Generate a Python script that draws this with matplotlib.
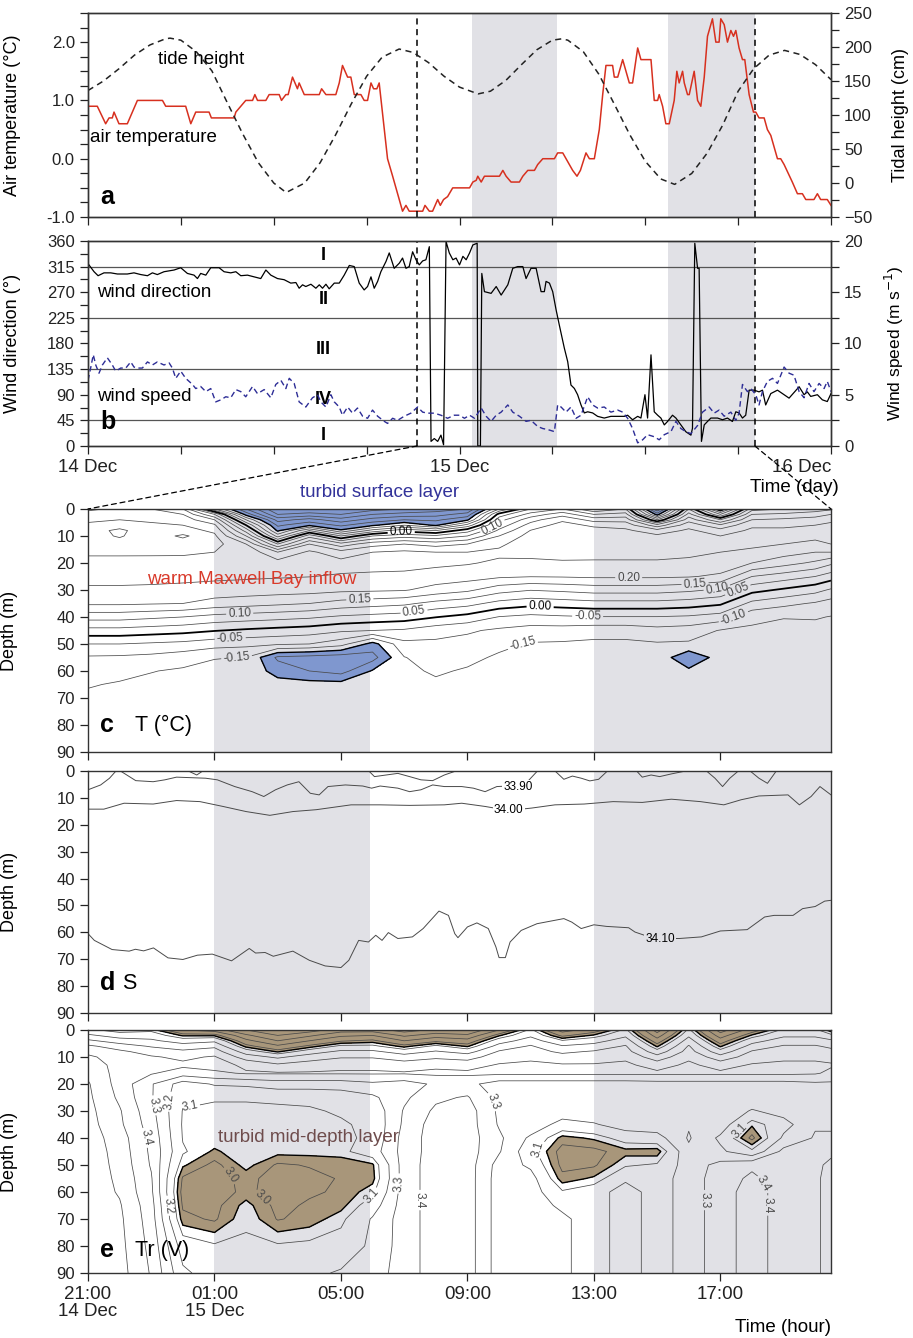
import numpy as np
import matplotlib
matplotlib.use("Agg")
import matplotlib.pyplot as plt
from matplotlib.patches import ConnectionPatch
from matplotlib.ticker import MultipleLocator

plt.rcParams['font.family'] = ['Liberation Sans', 'DejaVu Sans']
plt.rcParams['axes.linewidth'] = 1.0
plt.rcParams['contour.negative_linestyle'] = 'solid'

RED = '#d7301f'
NAVY = '#2d2d96'
SHADE = '#e1e1e6'
BLUE = '#7f97cf'
BROWN = '#a8967a'
LINE = '#4a4a4a'

# ---------------- panel a : hours since 14 Dec 00:00
air_hours = [0.0, 0.60, 1.14, 1.36, 1.57, 1.68, 2.00, 2.54, 3.19, 4.81,
             5.02, 6.31, 6.64, 6.96, 7.82, 7.97, 9.44, 9.55, 9.87, 10.19,
             10.63, 10.78, 10.95, 11.49, 11.70, 12.35, 12.50, 12.78, 12.93, 13.21,
             13.53, 13.64, 13.97, 14.94, 15.09, 15.37, 16.01, 16.23, 16.44, 16.77,
             16.98, 17.20, 17.63, 17.84, 18.06, 18.28, 18.45, 18.66, 18.81, 19.35,
             19.68, 20.11, 20.32, 20.54, 20.75, 21.62, 21.77, 22.05, 22.26, 22.59,
             22.76, 22.97, 23.23, 23.56,
             24.65, 24.86, 25.08, 25.18, 25.40, 25.61, 26.58, 26.80, 27.01, 27.33,
             27.87, 28.09, 28.41, 28.84, 29.05, 29.38, 30.13, 30.34, 30.67, 31.10,
             31.31, 31.59, 31.81, 32.17, 32.39, 32.71, 33.03, 33.25, 33.46, 33.89,
             34.00, 34.22, 34.43, 34.54, 34.86, 34.97, 35.18, 35.51, 35.72, 35.94,
             36.37, 36.58, 36.80, 36.90, 37.12, 37.33, 37.55, 37.87, 38.04, 38.19,
             38.41, 38.52, 38.73, 38.84, 39.16, 39.38, 39.59, 39.81, 40.02, 40.34,
             40.56, 40.77, 40.88, 41.10, 41.31, 41.53, 41.70, 41.85, 42.06, 42.28,
             42.43, 42.71, 42.99, 43.14, 43.35, 43.68, 43.89, 44.11, 44.54, 44.75,
             44.97, 45.50, 45.83, 46.15, 46.37, 46.90, 47.12, 47.33, 47.76, 48.0]
air_temp = [0.9, 0.9, 0.6, 0.7, 0.7, 0.8, 0.6, 0.6, 1.0, 1.0,
            0.9, 0.9, 0.6, 0.8, 0.8, 0.7, 0.7, 0.8, 0.9, 1.0,
            1.0, 1.1, 1.0, 1.0, 1.1, 1.1, 1.0, 1.1, 1.1, 1.4,
            1.2, 1.3, 1.1, 1.1, 1.2, 1.1, 1.1, 1.3, 1.6, 1.4,
            1.4, 1.1, 1.1, 1.0, 1.0, 1.3, 1.2, 1.2, 1.3, 0.0,
            -0.3, -0.7, -0.9, -0.8, -0.9, -0.9, -0.8, -0.9, -0.9, -0.7,
            -0.8, -0.7, -0.65, -0.5,
            -0.5, -0.4, -0.37, -0.3, -0.4, -0.3, -0.3, -0.2, -0.3, -0.4,
            -0.4, -0.3, -0.2, -0.2, -0.1, 0.0, 0.0, 0.1, 0.1, -0.1,
            -0.2, -0.3, -0.2, 0.1, 0.0, 0.0, 0.5, 1.1, 1.6, 1.6,
            1.4, 1.4, 1.6, 1.7, 1.4, 1.3, 1.3, 1.9, 1.7, 1.7,
            1.7, 1.0, 1.0, 1.1, 0.9, 0.6, 0.6, 1.0, 1.5, 1.3,
            1.5, 1.3, 1.1, 1.1, 1.5, 1.0, 0.9, 1.4, 2.1, 2.4,
            2.0, 2.0, 2.4, 2.3, 2.0, 2.2, 2.1, 2.2, 1.9, 1.7,
            1.7, 1.1, 0.8, 0.8, 0.7, 0.7, 0.5, 0.4, 0.0, 0.0,
            -0.1, -0.4, -0.6, -0.6, -0.7, -0.7, -0.6, -0.7, -0.7, -0.8]

tide_hours = [0, 1, 2, 3, 4, 5, 5.3, 6, 7, 8, 9, 10, 11, 12, 12.8, 14, 15, 16, 17,
              18, 19, 20.1, 21, 22, 23, 24, 25.2, 26, 27, 28, 29, 30, 30.6, 31, 32,
              33, 34, 35, 36, 37, 37.9, 39, 40, 41, 42, 43, 44, 45, 46, 47, 48]
tide_cm = [136, 150, 168, 188, 203, 212, 213, 210, 193, 165, 118, 72, 30, 0, -14, 0,
           30, 71, 116, 157, 185, 197, 192, 177, 157, 141, 131, 135, 151, 174, 196,
           210, 212, 210, 193, 160, 116, 71, 32, 6, -2, 14, 44, 85, 135, 168, 188,
           195, 189, 174, 152]

# ---------------- panel b
wdir_hours = [0.06, 0.39, 0.65, 1.03, 1.47, 1.90, 2.54, 2.97, 3.41, 3.84,
              4.16, 4.48, 4.91, 5.56, 5.99, 6.42, 6.85, 7.07, 7.28, 7.61,
              7.93, 8.47, 8.79, 9.22, 9.55, 9.87, 10.30, 10.73, 11.16, 11.49,
              11.81, 12.24, 12.67, 13.10, 13.43, 13.64, 13.86, 14.07, 14.40, 14.72,
              14.94, 15.15, 15.37, 15.58, 15.91, 16.23, 16.55, 16.88, 17.20, 17.52,
              17.84, 18.06, 18.28, 18.49, 18.71, 18.92, 19.25, 19.46, 19.78, 20.11,
              20.32, 20.54, 20.75, 20.97, 21.19, 21.40, 21.62, 21.83, 22.05, 22.16,
              22.37, 22.59, 22.80, 22.97, 23.13, 23.34,
              23.57, 23.78, 24.00, 24.22, 24.43, 24.65, 24.86, 25.14, 25.18, 25.35,
              25.44, 25.61, 26.04, 26.37, 26.69, 27.12, 27.44, 27.76, 28.09, 28.30,
              28.62, 28.95, 29.27, 29.48, 29.59, 29.81, 30.02, 30.24, 30.45, 30.77,
              30.99, 31.20, 31.42, 31.63, 31.85, 32.06, 32.28, 32.60, 32.92, 33.35,
              33.78, 34.22, 34.65, 34.86, 35.18, 35.51, 35.72, 35.98, 36.15, 36.37,
              36.58, 36.80, 37.01, 37.23, 37.44, 37.76, 37.98, 38.30, 38.62, 38.95,
              39.05, 39.20, 39.38, 39.48, 39.63, 39.81, 40.02, 40.24, 40.67, 40.99,
              41.31, 41.63, 41.85, 42.06, 42.28, 42.49, 42.71, 43.03, 43.35, 43.57,
              43.78, 44.11, 44.54, 45.29, 45.94, 46.26, 46.47, 46.69, 47.12, 47.44,
              47.76, 48.0]
wdir_deg = [318, 306, 299, 304, 304, 302, 302, 304, 301, 299,
            304, 301, 306, 309, 313, 303, 300, 294, 303, 300,
            313, 313, 306, 304, 306, 299, 300, 297, 294, 309,
            300, 294, 292, 286, 287, 277, 283, 280, 284, 277,
            283, 277, 284, 276, 286, 286, 300, 317, 315, 286,
            274, 280, 297, 277, 289, 306, 324, 339, 312, 321,
            330, 312, 315, 341, 327, 318, 325, 327, 350, 8,
            13, 8, 19, 2, 359, 339,
            327, 330, 318, 333, 327, 339, 353, 356, 0, 0,
            303, 271, 268, 280, 265, 283, 312, 315, 315, 294,
            312, 312, 271, 271, 289, 286, 271, 239, 212, 172,
            148, 107, 101, 90, 72, 58, 60, 58, 52, 49,
            52, 52, 52, 54, 46, 52, 49, 90, 49, 160,
            60, 54, 49, 37, 43, 54, 49, 37, 25, 19,
            31, 356, 312, 312, 8, 37, 43, 49, 49, 46,
            49, 43, 60, 58, 49, 54, 98, 98, 95, 98,
            72, 92, 98, 84, 104, 90, 95, 87, 90, 81,
            78, 92]

wspd_hours = [0.0, 0.17, 0.34, 0.50, 0.71, 0.93, 1.25, 1.57, 1.79, 2.11,
              2.44, 2.76, 2.97, 3.19, 3.51, 3.84, 4.16, 4.48, 4.91, 5.24,
              5.45, 5.67, 5.99, 6.31, 6.53, 6.75, 6.96, 7.28, 7.61, 7.93,
              8.25, 8.58, 8.90, 9.22, 9.55, 9.87, 10.19, 10.63, 10.95, 11.38,
              11.81, 12.13, 12.46, 12.78, 13.00, 13.32, 13.64, 14.07, 14.50, 14.83,
              15.04, 15.37, 15.69, 15.91, 16.23, 16.44, 16.77, 17.09, 17.41, 17.74,
              18.06, 18.38, 18.71, 19.14, 19.35, 19.68, 20.00, 20.43, 20.86, 21.29,
              21.62, 21.94, 22.37, 22.80, 23.23, 23.66,
              24.00, 24.32, 24.65, 24.97, 25.40, 25.72, 26.04, 26.37, 26.69, 27.12,
              27.44, 27.87, 28.30, 28.62, 29.05, 29.38, 29.70, 30.13, 30.34, 30.56,
              30.88, 31.20, 31.53, 31.85, 32.28, 32.60, 32.92, 33.35, 33.78, 34.22,
              34.54, 34.86, 35.18, 35.51, 35.83, 36.15, 36.58, 36.90, 37.23, 37.66,
              37.98, 38.30, 38.62, 38.95, 39.38, 39.70, 40.13, 40.45, 40.77, 41.10,
              41.53, 41.85, 42.06, 42.28, 42.60, 42.82, 43.14, 43.35, 43.57, 43.89,
              44.22, 44.54, 44.97, 45.29, 45.61, 45.94, 46.26, 46.58, 46.90, 47.23,
              47.55, 47.76, 48.0]
wspd_ms = [6.4, 7.6, 8.9, 7.9, 7.1, 7.9, 8.6, 7.9, 7.3, 7.6,
           7.6, 8.2, 7.7, 7.6, 7.6, 8.2, 7.9, 8.2, 7.9, 8.1,
           7.6, 6.6, 7.3, 6.6, 6.3, 6.0, 5.6, 5.8, 5.3, 5.6,
           4.3, 4.5, 4.8, 4.7, 5.5, 5.3, 4.8, 5.8, 5.1, 5.5,
           4.7, 6.0, 6.4, 5.6, 6.6, 6.1, 4.3, 3.8, 4.7, 5.0,
           4.3, 3.8, 5.0, 4.3, 3.8, 3.0, 3.8, 3.2, 3.7, 2.9,
           2.7, 3.5, 2.9, 2.4, 2.2, 2.7, 2.5, 2.9, 3.2, 3.8,
           3.3, 3.2, 3.2, 3.0, 2.7, 3.0,
           3.0, 2.7, 3.0, 2.7, 3.7, 2.9, 2.4, 3.0, 3.3, 4.0,
           3.3, 2.9, 2.4, 2.5, 1.9, 1.7, 1.6, 1.4, 4.0, 3.8,
           3.3, 3.8, 2.7, 3.0, 4.8, 4.0, 3.7, 3.8, 3.3, 3.5,
           3.3, 2.7, 1.7, 0.3, 0.6, 1.1, 0.9, 0.6, 1.1, 1.4,
           2.4, 1.7, 1.4, 1.2, 2.0, 3.3, 3.8, 3.2, 3.5, 2.9,
           3.3, 2.5, 3.2, 6.0, 5.3, 5.6, 5.0, 4.0, 5.3, 6.3,
           6.6, 6.1, 7.7, 7.1, 6.9, 5.3, 4.7, 6.1, 5.3, 6.1,
           5.6, 6.3, 5.3]

# ---------------- panels c-e : hours since 21:00 14 Dec, depth in m
grid_hours = [0, 1, 2, 3, 4, 5, 6, 7, 8, 9, 10, 11, 12, 13, 14, 15, 16, 17, 18,
              19, 20, 21, 22, 23, 23.5]
grid_depths = [0, 2, 4, 6, 8, 10, 13, 16, 20, 25, 30, 35, 40, 45, 50, 55, 60, 65,
               70, 80, 90]

# temperature profiles, one per grid hour (top to bottom)
temp_profiles = [
    [0.24, 0.27, 0.29, 0.31, 0.33, 0.33, 0.32, 0.31, 0.281, 0.266, 0.242, 0.208, 0.12, 0.033, -0.05, -0.106, -0.126, -0.146, -0.16, -0.18, -0.18],
    [0.26, 0.28, 0.30, 0.33, 0.36, 0.355, 0.33, 0.31, 0.281, 0.266, 0.242, 0.208, 0.12, 0.033, -0.05, -0.108, -0.134, -0.155, -0.167, -0.18, -0.18],
    [0.25, 0.27, 0.29, 0.31, 0.32, 0.32, 0.32, 0.31, 0.28, 0.265, 0.24, 0.204, 0.11, 0.025, -0.057, -0.114, -0.148, -0.162, -0.175, -0.18, -0.18],
    [0.20, 0.25, 0.28, 0.30, 0.32, 0.36, 0.32, 0.31, 0.278, 0.263, 0.236, 0.20, 0.10, 0.017, -0.064, -0.128, -0.157, -0.17, -0.18, -0.18, -0.18],
    [-0.10, 0.10, 0.20, 0.26, 0.29, 0.31, 0.32, 0.30, 0.275, 0.26, 0.23, 0.18, 0.083, 0.003, -0.079, -0.148, -0.162, -0.175, -0.18, -0.18, -0.18],
    [-0.30, -0.22, -0.10, 0.00, 0.08, 0.15, 0.25, 0.29, 0.274, 0.257, 0.226, 0.17, 0.075, -0.008, -0.086, -0.151, -0.164, -0.176, -0.18, -0.18, -0.18],
    [-0.45, -0.40, -0.32, -0.26, -0.21, -0.12, 0.05, 0.20, 0.272, 0.254, 0.222, 0.16, 0.067, -0.017, -0.093, -0.26, -0.22, -0.18, -0.18, -0.18, -0.18],
    [-0.45, -0.38, -0.28, -0.21, -0.05, 0.08, 0.20, 0.26, 0.27, 0.251, 0.219, 0.15, 0.058, -0.025, -0.10, -0.27, -0.25, -0.18, -0.18, -0.18, -0.18],
    [-0.45, -0.40, -0.33, -0.26, -0.19, -0.05, 0.12, 0.22, 0.268, 0.245, 0.211, 0.13, 0.042, -0.042, -0.13, -0.28, -0.27, -0.18, -0.18, -0.18, -0.18],
    [-0.42, -0.35, -0.28, -0.21, -0.08, 0.05, 0.18, 0.25, 0.266, 0.242, 0.208, 0.12, 0.033, -0.05, -0.22, -0.27, -0.195, -0.17, -0.18, -0.18, -0.18],
    [-0.40, -0.33, -0.25, -0.15, -0.02, 0.08, 0.20, 0.26, 0.265, 0.24, 0.204, 0.11, 0.025, -0.057, -0.114, -0.152, -0.16, -0.168, -0.175, -0.18, -0.18],
    [-0.38, -0.32, -0.26, -0.21, -0.05, 0.06, 0.18, 0.25, 0.26, 0.23, 0.18, 0.083, 0.002, -0.079, -0.111, -0.127, -0.144, -0.158, -0.17, -0.18, -0.18],
    [-0.35, -0.28, -0.21, -0.08, 0.03, 0.10, 0.20, 0.25, 0.254, 0.222, 0.16, 0.067, -0.017, -0.093, -0.118, -0.138, -0.155, -0.167, -0.175, -0.18, -0.18],
    [-0.10, 0.02, 0.08, 0.12, 0.16, 0.20, 0.24, 0.26, 0.242, 0.208, 0.12, 0.033, -0.052, -0.109, -0.138, -0.157, -0.17, -0.175, -0.18, -0.18, -0.18],
    [0.05, 0.12, 0.18, 0.22, 0.252, 0.27, 0.28, 0.27, 0.236, 0.202, 0.102, 0.017, -0.064, -0.121, -0.154, -0.166, -0.178, -0.18, -0.18, -0.18, -0.18],
    [0.10, 0.18, 0.24, 0.27, 0.28, 0.29, 0.29, 0.28, 0.24, 0.204, 0.11, 0.025, -0.057, -0.122, -0.156, -0.169, -0.18, -0.18, -0.18, -0.18, -0.18],
    [0.00, 0.10, 0.18, 0.24, 0.27, 0.28, 0.28, 0.27, 0.242, 0.208, 0.12, 0.033, -0.052, -0.13, -0.16, -0.172, -0.18, -0.18, -0.18, -0.18, -0.18],
    [0.05, 0.12, 0.18, 0.23, 0.26, 0.27, 0.28, 0.27, 0.242, 0.208, 0.12, 0.033, -0.052, -0.13, -0.16, -0.172, -0.18, -0.18, -0.18, -0.18, -0.18],
    [-0.35, -0.22, -0.05, 0.12, 0.22, 0.26, 0.28, 0.27, 0.242, 0.208, 0.12, 0.033, -0.052, -0.117, -0.155, -0.168, -0.18, -0.18, -0.18, -0.18, -0.18],
    [0.05, 0.12, 0.18, 0.23, 0.26, 0.27, 0.27, 0.26, 0.24, 0.204, 0.11, 0.025, -0.057, -0.124, -0.157, -0.24, -0.19, -0.18, -0.18, -0.18, -0.18],
    [-0.25, -0.10, 0.05, 0.16, 0.22, 0.25, 0.26, 0.25, 0.233, 0.19, 0.092, 0.008, -0.072, -0.153, -0.165, -0.178, -0.18, -0.18, -0.18, -0.18, -0.18],
    [0.08, 0.15, 0.20, 0.24, 0.26, 0.27, 0.26, 0.24, 0.20, 0.10, 0.017, -0.064, -0.136, -0.159, -0.172, -0.18, -0.18, -0.18, -0.18, -0.18, -0.18],
    [0.10, 0.16, 0.21, 0.24, 0.26, 0.26, 0.25, 0.22, 0.17, 0.075, -0.008, -0.086, -0.148, -0.163, -0.175, -0.18, -0.18, -0.18, -0.18, -0.18, -0.18],
    [0.12, 0.18, 0.22, 0.25, 0.26, 0.26, 0.24, 0.20, 0.14, 0.05, -0.033, -0.106, -0.146, -0.165, -0.175, -0.18, -0.18, -0.18, -0.18, -0.18, -0.18],
    [0.14, 0.20, 0.24, 0.26, 0.27, 0.27, 0.25, 0.20, 0.11, 0.025, -0.057, -0.122, -0.152, -0.168, -0.178, -0.18, -0.18, -0.18, -0.18, -0.18, -0.18],
]

# salinity isolines (hours, depth)
sal_3390_hours = [0, 0.4, 0.68, 0.87, 1.05, 1.51, 2.06, 2.43, 2.8, 3.72, 4.09, 4.64,
                  5.19, 5.56, 5.93, 6.3, 6.67, 7.03, 7.31, 7.59, 8.14, 8.69, 8.97,
                  9.24, 9.8, 10.17, 10.53, 10.9, 11.27, 11.82, 12.19, 12.56, 12.93,
                  13.3, 13.6, 13.85, 14.2]
sal_3390_depth = [7.0, 5.2, 2.7, 0.2, 0.2, 3.6, 4.0, 3.3, 2.3, 2.7, 3.3, 5.8, 7.7,
                  9.5, 7.0, 5.2, 4.0, 8.3, 8.9, 5.8, 5.2, 5.6, 6.4, 5.6, 6.4, 7.7,
                  7.0, 5.2, 5.8, 5.8, 6.4, 7.7, 5.8, 5.6, 6.0, 4.6, 0.2]
sal_3400_hours = [0, 0.5, 1.14, 2.06, 2.8, 3.54, 4.27, 5.0, 5.75, 6.48, 7.22, 8.32,
                  9.24, 10.17, 11.27, 11.82, 12.56, 13.3, 14.03, 14.77, 15.69, 16.61,
                  17.53, 18.45, 19.37, 20.11, 20.66, 21.22, 22.14, 22.5, 22.87, 23.15,
                  23.5]
sal_3400_depth = [14.2, 14.2, 12.0, 12.3, 11.0, 11.4, 13.2, 15.1, 16.5, 15.1, 14.4,
                  12.6, 12.6, 12.8, 12.6, 12.0, 13.2, 14.7, 13.8, 12.6, 12.3, 11.4,
                  11.7, 10.5, 11.4, 12.6, 10.7, 9.3, 8.9, 12.6, 9.5, 5.8, 8.9]
sal_3410_hours = [0, 0.2, 0.76, 1.3, 1.5, 1.76, 2.07, 2.53, 3.0, 3.46,
                  3.93, 4.54, 5.1, 5.3, 5.6, 5.86, 6.48, 7.0, 7.5, 8.0,
                  8.25, 8.56, 8.87, 9.1, 9.3, 9.5, 9.8, 10.26, 10.6, 11.1,
                  11.4, 11.6, 11.7, 12.0, 12.3, 12.66, 12.9, 13.0, 13.2, 13.35,
                  13.7, 14.2, 15.05, 15.3, 15.6, 16.0, 16.4, 17.1, 17.3, 17.9,
                  18.7, 19.4, 20.0, 20.85, 21.4, 21.7, 22.3, 22.6, 23.0, 23.3, 23.5]
sal_3410_depth = [60.5, 63, 66.4, 67, 66.3, 66.9, 65.8, 69.5, 70.1, 68.5,
                  68.1, 70.6, 66, 67.7, 67.5, 68.9, 67, 70.4, 72.5, 73.1,
                  70.4, 63, 63.6, 61.1, 63, 60.1, 62.3, 61.7, 58.6, 52.1,
                  53.7, 60.5, 62, 58, 56.5, 58.6, 65.4, 69.4, 69.4, 63.6,
                  59.3, 56.8, 54.9, 56.2, 58.6, 57.2, 57.8, 58.3, 59.9, 62.3,
                  62.3, 61.7, 59.5, 59, 54.3, 53.7, 53.7, 51.2, 50.4, 48.4, 48.1]
sal_surface_bits = [
    ([3.17, 3.44, 3.63], [0, 1.5, 0]),
    ([8.88, 9.06, 9.43, 9.8, 10.17, 10.53, 10.9, 11.27, 11.64], [0, 2.1, 1.5, 0.9, 2.1, 3.3, 3.6, 1.5, 0]),
    ([14.77, 15.05, 15.32, 15.6, 15.87, 16.15, 16.43], [0, 3.1, 1.9, 2.7, 3.7, 3.1, 0]),
    ([17.35, 17.53, 17.81, 18.08, 18.45, 18.91], [0, 2.3, 1.5, 2.1, 1.1, 0]),
    ([19.56, 19.83, 20.07, 20.3, 20.57], [0, 2.7, 5.8, 2.7, 0]),
    ([20.94, 21.22, 21.49, 21.77], [0, 2.7, 4.6, 0]),
]

# transmissometer profiles (V), one per grid hour
tr_profiles = [
    [3.12, 3.22, 3.32, 3.42, 3.47, 3.52, 3.56, 3.58, 3.61, 3.62, 3.63, 3.64, 3.65, 3.66, 3.66, 3.66, 3.66, 3.66, 3.66, 3.66, 3.66],
    [3.06, 3.15, 3.25, 3.35, 3.42, 3.45, 3.46, 3.46, 3.46, 3.48, 3.51, 3.52, 3.55, 3.56, 3.57, 3.58, 3.59, 3.61, 3.62, 3.63, 3.64],
    [3.08, 3.15, 3.22, 3.29, 3.36, 3.41, 3.43, 3.41, 3.31, 3.31, 3.33, 3.35, 3.37, 3.38, 3.39, 3.41, 3.42, 3.44, 3.45, 3.47, 3.49],
    [2.90, 3.04, 3.15, 3.25, 3.32, 3.38, 3.42, 3.35, 3.15, 3.12, 3.095, 3.09, 3.095, 3.11, 3.06, 2.99, 2.97, 2.99, 3.02, 3.15, 3.22],
    [2.85, 3.04, 3.18, 3.28, 3.35, 3.41, 3.44, 3.38, 3.21, 3.11, 3.08, 3.08, 3.085, 3.04, 2.98, 2.97, 2.96, 2.98, 2.99, 3.11, 3.15],
    [2.70, 2.82, 2.93, 3.03, 3.15, 3.25, 3.38, 3.41, 3.22, 3.11, 3.08, 3.08, 3.09, 3.09, 3.07, 3.02, 3.02, 3.07, 3.09, 3.11, 3.15],
    [2.60, 2.70, 2.80, 2.92, 3.04, 3.18, 3.32, 3.41, 3.25, 3.12, 3.08, 3.08, 3.08, 3.07, 2.99, 2.97, 2.96, 2.98, 2.995, 3.11, 3.16],
    [2.65, 2.78, 2.90, 3.02, 3.15, 3.25, 3.35, 3.41, 3.25, 3.12, 3.09, 3.08, 3.08, 3.07, 3.005, 2.98, 2.99, 3.01, 3.02, 3.12, 3.18],
    [2.75, 2.88, 2.99, 3.12, 3.22, 3.29, 3.38, 3.41, 3.25, 3.14, 3.11, 3.09, 3.08, 3.08, 3.01, 3.005, 3.01, 3.03, 3.08, 3.14, 3.21],
    [2.75, 2.90, 3.02, 3.12, 3.22, 3.29, 3.38, 3.41, 3.28, 3.18, 3.13, 3.12, 3.12, 3.15, 3.04, 3.03, 3.08, 3.15, 3.21, 3.22, 3.25],
    [2.65, 2.78, 2.90, 3.03, 3.15, 3.25, 3.35, 3.41, 3.25, 3.28, 3.31, 3.32, 3.34, 3.34, 3.35, 3.35, 3.35, 3.35, 3.35, 3.35, 3.35],
    [2.72, 2.85, 2.98, 3.12, 3.21, 3.28, 3.38, 3.42, 3.32, 3.38, 3.42, 3.45, 3.45, 3.45, 3.45, 3.45, 3.45, 3.45, 3.45, 3.45, 3.45],
    [2.70, 2.82, 2.94, 3.04, 3.16, 3.26, 3.36, 3.42, 3.33, 3.41, 3.45, 3.45, 3.45, 3.45, 3.45, 3.45, 3.45, 3.45, 3.45, 3.45, 3.45],
    [2.90, 3.04, 3.15, 3.24, 3.31, 3.35, 3.41, 3.42, 3.25, 3.27, 3.28, 3.29, 3.32, 3.31, 3.26, 3.25, 3.25, 3.25, 3.25, 3.25, 3.25],
    [3.12, 3.18, 3.25, 3.31, 3.34, 3.38, 3.42, 3.42, 3.25, 3.27, 3.28, 3.27, 3.18, 3.13, 3.18, 3.24, 3.25, 3.25, 3.25, 3.25, 3.25],
    [2.85, 2.98, 3.11, 3.21, 3.28, 3.34, 3.41, 3.42, 3.25, 3.27, 3.26, 3.16, 3.03, 2.97, 2.98, 3.02, 3.11, 3.18, 3.22, 3.22, 3.22],
    [2.95, 3.06, 3.16, 3.24, 3.31, 3.35, 3.41, 3.42, 3.25, 3.27, 3.27, 3.19, 3.06, 2.98, 2.99, 3.06, 3.15, 3.15, 3.15, 3.15, 3.15],
    [3.12, 3.18, 3.25, 3.31, 3.34, 3.38, 3.42, 3.42, 3.25, 3.27, 3.28, 3.25, 3.14, 3.03, 3.09, 3.18, 3.25, 3.25, 3.25, 3.25, 3.25],
    [2.75, 2.85, 2.95, 3.04, 3.14, 3.24, 3.36, 3.42, 3.26, 3.27, 3.28, 3.26, 3.16, 3.02, 3.11, 3.15, 3.15, 3.15, 3.15, 3.15, 3.15],
    [3.12, 3.18, 3.25, 3.31, 3.34, 3.38, 3.42, 3.42, 3.26, 3.27, 3.28, 3.29, 3.31, 3.28, 3.25, 3.25, 3.25, 3.25, 3.25, 3.25, 3.25],
    [2.75, 2.85, 2.95, 3.04, 3.14, 3.24, 3.36, 3.42, 3.26, 3.27, 3.28, 3.26, 3.18, 3.22, 3.33, 3.35, 3.35, 3.35, 3.35, 3.35, 3.35],
    [2.95, 3.06, 3.16, 3.24, 3.31, 3.35, 3.41, 3.42, 3.26, 3.27, 3.19, 3.06, 2.98, 3.12, 3.38, 3.42, 3.45, 3.45, 3.45, 3.45, 3.45],
    [3.12, 3.18, 3.25, 3.31, 3.34, 3.38, 3.42, 3.42, 3.26, 3.27, 3.24, 3.16, 3.22, 3.33, 3.34, 3.35, 3.35, 3.35, 3.35, 3.35, 3.35],
    [3.12, 3.18, 3.25, 3.31, 3.34, 3.38, 3.42, 3.41, 3.28, 3.27, 3.28, 3.29, 3.31, 3.31, 3.31, 3.31, 3.31, 3.31, 3.31, 3.31, 3.31],
    [3.02, 3.12, 3.22, 3.28, 3.33, 3.37, 3.41, 3.38, 3.28, 3.27, 3.28, 3.29, 3.31, 3.31, 3.29, 3.28, 3.28, 3.28, 3.28, 3.28, 3.28],
]

temp_levels = [-0.45, -0.40, -0.35, -0.30, -0.25, -0.15, -0.10, -0.05,
               0.05, 0.10, 0.15, 0.20, 0.25, 0.30, 0.35]
tr_levels = [2.6, 2.7, 2.8, 2.9, 3.0, 3.1, 3.2, 3.3, 3.4, 3.5, 3.6]

# ---------------------------------------------------------------
fig = plt.figure(figsize=(9.13, 13.38), dpi=100)
L, W = 0.0964, 0.8138
ax_a = fig.add_axes([L, 0.8378, W, 0.1525])
ax_b = fig.add_axes([L, 0.6667, W, 0.1532])
ax_c = fig.add_axes([L, 0.4380, W, 0.1816])
ax_d = fig.add_axes([L, 0.2429, W, 0.1809])
ax_e = fig.add_axes([L, 0.0486, W, 0.1816])

TICK = dict(direction='out', length=6, width=0.9, labelsize=12, colors='#222')

# --- a
for ax in (ax_a, ax_b):
    ax.axvspan(24.8, 30.3, color=SHADE, lw=0, zorder=0)
    ax.axvspan(37.5, 43.08, color=SHADE, lw=0, zorder=0)
    ax.set_xlim(0, 48)
    ax.set_xticks(range(0, 49, 6))
    for xv in (21.26, 43.08):
        ax.axvline(xv, color='k', ls=(0, (4, 3)), lw=1.1, zorder=5)
    ax.tick_params(axis='both', which='both', **TICK)

ax_a.plot(air_hours, air_temp, color=RED, lw=1.1, zorder=3)
ax_a.set_ylim(-1, 2.5)
ax_a.set_yticks([-1, 0, 1, 2])
ax_a.set_yticklabels(['-1.0', '0.0', '1.0', '2.0'])
ax_a.yaxis.set_minor_locator(MultipleLocator(0.25))
ax_a.set_xticklabels([])
ax_a.set_ylabel('Air temperature (°C)', fontsize=13)
ax_a.yaxis.set_label_coords(-0.09, 0.5)
ax_a2 = ax_a.twinx()
ax_a2.plot(tide_hours, tide_cm, color='#222', ls=(0, (4, 3)), lw=1.1)
ax_a2.set_ylim(-50, 250)
ax_a2.set_yticks(range(-50, 251, 50))
ax_a2.yaxis.set_minor_locator(MultipleLocator(25))
ax_a2.tick_params(axis='y', which='both', **TICK)
ax_a2.set_ylabel('Tidal height (cm)', fontsize=13)
ax_a2.yaxis.set_label_coords(1.082, 0.5)
ax_a.text(4.5, 1.71, 'tide height', fontsize=13.5, va='center')
ax_a.text(0.13, 0.36, 'air temperature', fontsize=13.5, va='center')
ax_a.text(0.8, -0.66, 'a', fontsize=18, fontweight='bold', va='center')

# --- b
for v in (45, 135, 225, 315):
    ax_b.axhline(v, color='#555', lw=0.9, zorder=1)
ax_b.plot(wdir_hours, wdir_deg, color='k', lw=0.9, zorder=3)
ax_b.set_ylim(0, 360)
ax_b.set_yticks(range(0, 361, 45))
ax_b.yaxis.set_minor_locator(MultipleLocator(22.5))
ax_b.set_xticklabels(['14 Dec', '', '', '', '15 Dec', '', '', '', '16 Dec'], fontsize=13.5)
ax_b.get_xticklabels()[-1].set_horizontalalignment('right')
ax_b.set_ylabel('Wind direction (°)', fontsize=13)
ax_b.yaxis.set_label_coords(-0.09, 0.5)
ax_b2 = ax_b.twinx()
ax_b2.plot(wspd_hours, wspd_ms, color=NAVY, ls=(0, (4, 2.5)), lw=1.0)
ax_b2.set_ylim(0, 20)
ax_b2.set_yticks(range(0, 21, 5))
ax_b2.yaxis.set_minor_locator(MultipleLocator(2.5))
ax_b2.tick_params(axis='y', which='both', **TICK)
ax_b2.set_ylabel('Wind speed (m s$^{-1}$)', fontsize=12.5)
ax_b2.yaxis.set_label_coords(1.07, 0.5)
ax_b.text(0.6, 269, 'wind direction', fontsize=13.5, va='center')
ax_b.text(0.6, 86, 'wind speed', fontsize=13.5, va='center')
ax_b.text(0.8, 42, 'b', fontsize=18, fontweight='bold', va='center')
for txt, yv in (('I', 335), ('II', 258), ('III', 170), ('IV', 81), ('I', 19)):
    ax_b.text(15.2, yv, txt, fontsize=13, fontweight='bold', ha='center', va='center', zorder=6)
ax_b.text(1.01, -0.205, 'Time (day)', transform=ax_b.transAxes, fontsize=13.5,
          ha='right', va='center')

# --- contour panels
def depth_axis(ax, show_labels=False):
    ax.axvspan(4, 8.93, color=SHADE, lw=0, zorder=0)
    ax.axvspan(16, 23.5, color=SHADE, lw=0, zorder=0)
    ax.set_xlim(0, 23.5)
    ax.set_ylim(90, 0)
    ax.set_yticks(range(0, 91, 10))
    ax.set_xticks([0, 4, 8, 12, 16, 20])
    ax.tick_params(axis='both', **TICK)
    if show_labels:
        ax.set_xticklabels(['21:00\n14 Dec', '01:00\n15 Dec', '05:00', '09:00',
                            '13:00', '17:00'], fontsize=13.5, linespacing=1.0)
    else:
        ax.set_xticklabels([])
    ax.set_ylabel('Depth (m)', fontsize=13)
    ax.yaxis.set_label_coords(-0.094, 0.5)

tgrid = np.array(temp_profiles).T
rgrid = np.array(tr_profiles).T

depth_axis(ax_c)
ax_c.contourf(grid_hours, grid_depths, tgrid, levels=[-1, -0.20], colors=[BLUE], zorder=1)
cs_c = ax_c.contour(grid_hours, grid_depths, tgrid, levels=temp_levels,
                    colors=LINE, linewidths=0.55, zorder=2)
ax_c.contour(grid_hours, grid_depths, tgrid, levels=[-0.20], colors='k',
             linewidths=1.0, zorder=2)
cs_c0 = ax_c.contour(grid_hours, grid_depths, tgrid, levels=[0.0], colors='k',
                     linewidths=1.3, zorder=2)
ax_c.clabel(cs_c, fmt='%.2f', fontsize=8.5, inline_spacing=2,
            manual=[(12.8, 6.5), (17.1, 24.5), (19.2, 28), (19.9, 30), (20.6, 31.5),
                    (15.8, 40.9), (20.4, 39.5), (13.7, 48.6), (8.6, 34.4),
                    (10.3, 37), (4.8, 39.5), (4.5, 48.2), (4.7, 54.4)])
ax_c.clabel(cs_c0, fmt=lambda v: '0.00', fontsize=8.5, inline_spacing=2,
            manual=[(9.9, 7.5), (14.3, 36)])
ax_c.text(0.38, 80, 'c', fontsize=18, fontweight='bold', va='center')
ax_c.text(1.49, 80, 'T (°C)', fontsize=15.5, va='center')
ax_c.text(1.87, 26, 'warm Maxwell Bay inflow', fontsize=13.5, color='#d93a2b', va='center')
ax_c.text(6.7, -6, 'turbid surface layer', fontsize=13.5, color='#33339a', va='center',
          clip_on=False)

# --- d
depth_axis(ax_d)
for hh, dd in ([sal_3390_hours, sal_3390_depth], [sal_3400_hours, sal_3400_depth],
               [sal_3410_hours, sal_3410_depth]):
    ax_d.plot(hh, dd, color=LINE, lw=0.7, zorder=2)
for hh, dd in sal_surface_bits:
    ax_d.plot(hh, dd, color=LINE, lw=0.7, zorder=2)
box_w = dict(boxstyle='square,pad=0.1', fc='white', ec='none')
box_g = dict(boxstyle='square,pad=0.1', fc=SHADE, ec='none')
ax_d.text(13.6, 6.0, '33.90', fontsize=8.5, ha='center', va='center', bbox=box_w, zorder=3)
ax_d.text(13.3, 14.7, '34.00', fontsize=8.5, ha='center', va='center', bbox=box_w, zorder=3)
ax_d.text(18.1, 62.3, '34.10', fontsize=8.5, ha='center', va='center', bbox=box_g, zorder=3)
ax_d.text(0.38, 79, 'd', fontsize=18, fontweight='bold', va='center')
ax_d.text(1.08, 79, 'S', fontsize=15.5, va='center')

# --- e
depth_axis(ax_e, show_labels=True)
ax_e.contourf(grid_hours, grid_depths, rgrid, levels=[0, 3.05], colors=[BROWN], zorder=1)
cs_e = ax_e.contour(grid_hours, grid_depths, rgrid, levels=tr_levels,
                    colors=LINE, linewidths=0.55, zorder=2)
ax_e.contour(grid_hours, grid_depths, rgrid, levels=[3.05], colors='k',
             linewidths=1.0, zorder=2)
ax_e.clabel(cs_e, fmt='%.1f', fontsize=8.5, inline_spacing=2,
            manual=[(3.2, 27), (2.5, 26.5), (2.2, 27.7), (1.95, 39.5), (4.2, 57),
                    (5.6, 61), (2.6, 65), (9.0, 62), (10.0, 57), (10.4, 63),
                    (12.6, 27), (14.2, 44), (20.5, 36), (19.6, 63), (21.2, 58),
                    (21.4, 65)])
ax_e.text(0.38, 81.5, 'e', fontsize=18, fontweight='bold', va='center')
ax_e.text(1.49, 81.5, 'Tr (V)', fontsize=15.5, va='center')
ax_e.text(4.1, 40, 'turbid mid-depth layer', fontsize=13.5, color='#6e4c4c', va='center')
ax_e.text(1.0, -0.226, 'Time (hour)', transform=ax_e.transAxes, fontsize=13.5,
          ha='right', va='center')

# dashed connectors from panel b to panel c
for xb, xc in ((21.26, 0), (43.08, 23.5)):
    con = ConnectionPatch(xyA=(xb, 0), coordsA=ax_b.transData, xyB=(xc, 0),
                          coordsB=ax_c.transData, ls=(0, (4, 3)), color='k', lw=0.9)
    fig.add_artist(con)

for ax in (ax_a, ax_b, ax_c, ax_d, ax_e, ax_a2, ax_b2):
    for s in ax.spines.values():
        s.set_color('#333')

fig.savefig('out.png', dpi=100)
